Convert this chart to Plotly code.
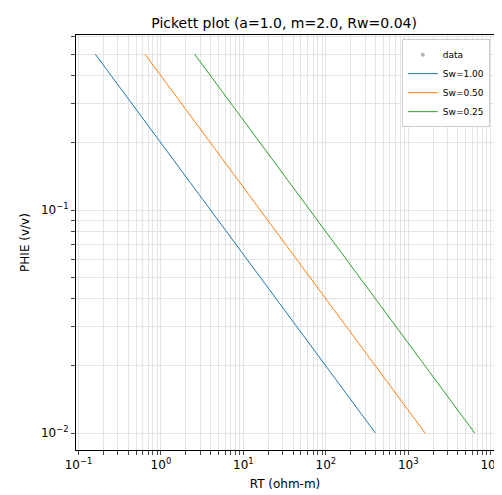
import plotly.graph_objects as go

phi = [0.5, 0.01]
rt_sw100 = [0.16, 400]
rt_sw050 = [0.64, 1600]
rt_sw025 = [2.56, 6400]
x_major = [0.1, 1, 10, 100, 1000, 10000]
x_labels = ["10<sup>−1</sup>", "10<sup>0</sup>", "10<sup>1</sup>", "10<sup>2</sup>", "10<sup>3</sup>", "10<sup>4</sup>"]
y_major = [0.01, 0.1]
y_labels = ["10<sup>−2</sup>", "10<sup>−1</sup>"]
mult = [1, 2, 3, 4, 5, 6, 7, 8, 9]

def ticks(majors, labels):
    vals, txt = [], []
    for m, l in zip(majors, labels):
        for k in mult:
            vals.append(m * k)
            txt.append(l if k == 1 else "")
    return vals, txt

xv, xt = ticks(x_major, x_labels)
yv, yt = ticks(y_major + [1.0], y_labels + [""])

fig = go.Figure()
fig.add_trace(go.Scatter(x=[None], y=[None], mode="markers", name="data",
                         marker=dict(color="gray", size=4, opacity=0.6)))
for name, rt, c in [("Sw=1.00", rt_sw100, "#1f77b4"), ("Sw=0.50", rt_sw050, "#ff7f0e"),
                    ("Sw=0.25", rt_sw025, "#2ca02c")]:
    fig.add_trace(go.Scatter(x=rt, y=phi, mode="lines", name=name, line=dict(color=c, width=1)))

ax = dict(type="log", showline=True, linecolor="black", mirror=True, ticks="outside",
          gridcolor="#e4e4e4", gridwidth=0.6, zeroline=False, automargin=False, ticklen=4,
          tickfont=dict(size=12, color="black"))
fig.update_xaxes(**ax, range=[-1.03, 4.04], tickmode="array", tickvals=xv, ticktext=xt,
                 title=dict(text="RT (ohm-m)", font=dict(size=12), standoff=8))
fig.update_yaxes(**ax, range=[-2.076, -0.215], tickmode="array", tickvals=yv, ticktext=yt,
                 title=dict(text="PHIE (v/v)", font=dict(size=12), standoff=8))
fig.update_layout(width=502, height=495, plot_bgcolor="white", paper_bgcolor="white",
                  font=dict(family="DejaVu Sans", color="black"),
                  margin=dict(l=68, r=16, t=27, b=53),
                  title=dict(text="Pickett plot (a=1.0, m=2.0, Rw=0.04)", x=0.55, xanchor="center",
                             yref="container", y=0.97, yanchor="middle", font=dict(size=14)),
                  legend=dict(x=0.99, y=0.99, xanchor="right", yanchor="top", bgcolor="white",
                              bordercolor="#cccccc", borderwidth=1, font=dict(size=9)))
fig.write_html("out.html")
